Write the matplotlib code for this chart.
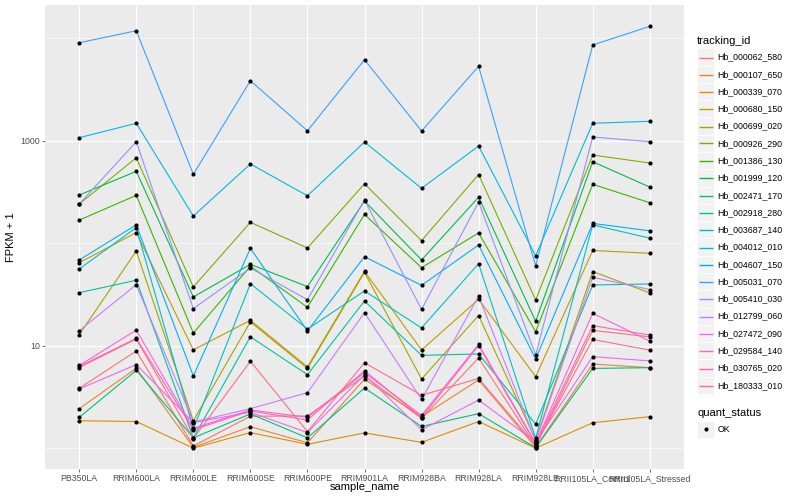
import numpy as np
import matplotlib
matplotlib.use('Agg')
import matplotlib.pyplot as plt
from matplotlib.lines import Line2D
from matplotlib.patches import Rectangle

plt.rcParams['font.family'] = ['Liberation Sans', 'DejaVu Sans']

# x categories
samples = ["PB350LA", "RRIM600LA", "RRIM600LE", "RRIM600SE", "RRIM600PE", "RRIM901LA",
           "RRIM928BA", "RRIM928LA", "RRIM928LE", "RRII105LA_Control", "RRII105LA_Stressed"]

# FPKM + 1 per gene, one value per sample
hb_000062_580 = [3.84, 8.87, 1.05, 2.05, 2.06, 5.06, 1.95, 7.59, 1.05, 14.1, 12.2]
hb_000107_650 = [2.43, 6.02, 1.02, 1.62, 1.13, 4.70, 2.03, 4.63, 1.02, 6.62, 6.10]
hb_000339_070 = [1.85, 1.82, 1.00, 1.42, 1.09, 1.41, 1.14, 1.82, 1.00, 1.77, 2.03]
hb_000680_150 = [64.5, 127, 9.08, 17.7, 6.20, 53.2, 9.08, 28.4, 4.99, 84.9, 79.7]
hb_000699_020 = [12.8, 83.9, 1.85, 17.1, 6.02, 52.0, 4.73, 19.7, 1.20, 52.9, 32.7]
hb_000926_290 = [241, 682, 37.4, 160, 89.8, 380, 106, 468, 27.9, 725, 606]
hb_001386_130 = [168, 293, 13.3, 59.6, 23.7, 191, 57.7, 126, 13.7, 376, 248]
hb_001999_120 = [295, 503, 29.9, 62.2, 37.7, 258, 68.6, 281, 17.3, 624, 353]
hb_002471_170 = [2.00, 5.75, 1.26, 2.16, 1.26, 3.86, 1.63, 2.17, 1.01, 6.00, 6.10]
hb_002918_280 = [32.9, 43.5, 1.26, 12.2, 5.21, 27.3, 8.05, 8.30, 1.72, 39.1, 40.0]
hb_003687_140 = [56.0, 142, 1.54, 40.3, 14.5, 34.2, 14.9, 63.1, 1.25, 151, 112]
hb_004012_010 = [1070, 1480, 184, 593, 290, 971, 343, 888, 75.5, 1480, 1546]
hb_004607_150 = [68.6, 151, 5.06, 89.1, 13.9, 73.8, 38.8, 96.0, 7.41, 156, 132]
hb_005031_070 = [9040, 11830, 470, 3850, 1250, 6170, 1245, 5320, 60.0, 8590, 13060]
hb_005410_030 = [241, 978, 23.0, 57.3, 28.1, 264, 22.6, 252, 8.11, 1087, 978]
hb_012799_060 = [14.0, 39.4, 1.80, 2.43, 3.48, 21.0, 2.99, 30.5, 1.17, 46.5, 35.3]
hb_027472_090 = [3.78, 6.53, 1.78, 2.24, 1.42, 5.21, 1.51, 2.95, 1.15, 7.82, 7.10]
hb_029584_140 = [6.41, 14.2, 1.56, 2.36, 2.00, 5.45, 2.09, 10.3, 1.12, 20.7, 11.1]
hb_030765_020 = [6.27, 11.8, 1.51, 2.31, 1.88, 5.70, 1.99, 10.0, 1.10, 15.7, 12.7]
hb_180333_010 = [6.12, 11.6, 1.24, 7.05, 1.45, 6.82, 3.28, 4.79, 1.07, 11.5, 9.04]

tracking_ids = ["Hb_000062_580", "Hb_000107_650", "Hb_000339_070", "Hb_000680_150",
                "Hb_000699_020", "Hb_000926_290", "Hb_001386_130", "Hb_001999_120",
                "Hb_002471_170", "Hb_002918_280", "Hb_003687_140", "Hb_004012_010",
                "Hb_004607_150", "Hb_005031_070", "Hb_005410_030", "Hb_012799_060",
                "Hb_027472_090", "Hb_029584_140", "Hb_030765_020", "Hb_180333_010"]
series = [hb_000062_580, hb_000107_650, hb_000339_070, hb_000680_150, hb_000699_020,
          hb_000926_290, hb_001386_130, hb_001999_120, hb_002471_170, hb_002918_280,
          hb_003687_140, hb_004012_010, hb_004607_150, hb_005031_070, hb_005410_030,
          hb_012799_060, hb_027472_090, hb_029584_140, hb_030765_020, hb_180333_010]

# ggplot hue palette, 20 levels
colors = ["#F8766D", "#EA8331", "#D89000", "#C09B00", "#A3A500", "#7CAE00", "#39B600",
          "#00BB4E", "#00BF7D", "#00C1A3", "#00BFC4", "#00BAE0", "#00B0F6", "#35A2FF",
          "#9590FF", "#C77CFF", "#E76BF3", "#FA62DB", "#FF62BC", "#FF6C91"]

W, H = 800, 500
fig = plt.figure(figsize=(8, 5), dpi=100)
ax = fig.add_axes([45 / W, 1 - 469.3 / H, (684 - 45) / W, (469.3 - 5) / H])
ax.set_facecolor("#EBEBEB")
for s in ax.spines.values():
    s.set_visible(False)

x = np.arange(len(samples))
for vals, col in zip(series, colors):
    ax.plot(x, vals, color=col, lw=0.8, zorder=3)
for vals in series:
    ax.plot(x, vals, "o", color="black", ms=3, mew=0, zorder=4)

ax.set_yscale("log")
ax.set_xlim(-0.6, 10.6)
ax.set_ylim(0.622, 21100)
ax.set_yticks([10, 1000])
ax.set_yticklabels(["10", "1000"])
ax.set_yticks([1, 100, 10000], minor=True)
ax.set_yticklabels([], minor=True)
ax.set_xticks(x)
ax.set_xticklabels(samples)

ax.grid(True, which="major", color="white", lw=0.8, zorder=0)
ax.grid(True, which="minor", axis="y", color="white", lw=0.4, zorder=0)
ax.set_axisbelow(True)
ax.tick_params(which="major", length=2, width=0.5, color="#333333", pad=1.5,
               labelsize=6.3, labelcolor="#4D4D4D")
ax.tick_params(which="minor", length=0)

ax.set_xlabel("sample_name", fontsize=8)
ax.set_ylabel("FPKM + 1", fontsize=8)
ax.xaxis.set_label_coords(0.5, -(487 - 469.3) / 464.3)
ax.xaxis.label.set_va("center")
ax.yaxis.set_label_coords(-(45 - 11) / 639, 0.5)
ax.yaxis.label.set_va("center")


def fx(px):
    return px / W


def fy(py):
    return 1 - py / H


# legend: tracking_id
key = 17.28
fig.text(fx(697), fy(40.7), "tracking_id", fontsize=8, va="center", ha="left")
for i, (name, col) in enumerate(zip(tracking_ids, colors)):
    cy = 57 + key * i
    fig.patches.append(Rectangle((fx(697), fy(cy + key / 2)), key / W, key / H,
                                 transform=fig.transFigure, facecolor="#F2F2F2",
                                 edgecolor="white", lw=0.5, zorder=1))
    ly = int(cy) + 0.5
    fig.lines.append(Line2D([fx(698.5), fx(712.5)], [fy(ly), fy(ly)], color=col, lw=1.0,
                            solid_capstyle="butt", transform=fig.transFigure, zorder=5))
    fig.text(fx(717.5), fy(cy), name, fontsize=6.3, va="center", ha="left")

# legend: quant_status
fig.text(fx(697), fy(412.7), "quant_status", fontsize=8, va="center", ha="left")
cy = 429.3
fig.patches.append(Rectangle((fx(697), fy(cy + key / 2)), key / W, key / H,
                             transform=fig.transFigure, facecolor="#F2F2F2",
                             edgecolor="white", lw=0.5, zorder=1))
fig.lines.append(Line2D([fx(697 + key / 2)], [fy(cy)], marker="o", color="black", ms=3,
                        mew=0, transform=fig.transFigure, zorder=5))
fig.text(fx(717.5), fy(cy), "OK", fontsize=6.3, va="center", ha="left")

fig.savefig("out.png", dpi=100)
